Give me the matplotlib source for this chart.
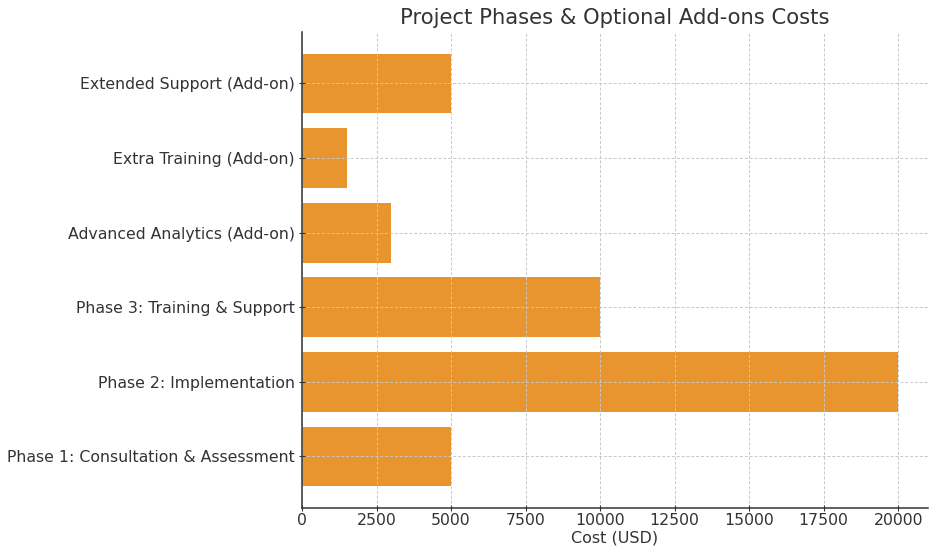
import matplotlib
matplotlib.use('Agg')
import matplotlib.pyplot as plt

# Data
categories = ['Phase 1: Consultation & Assessment', 'Phase 2: Implementation',
              'Phase 3: Training & Support', 'Advanced Analytics (Add-on)',
              'Extra Training (Add-on)', 'Extended Support (Add-on)']
costs = [5000, 20000, 10000, 3000, 1500, 5000]
xticks = [0, 2500, 5000, 7500, 10000, 12500, 15000, 17500, 20000]

text_color = '#333333'

fig = plt.figure(figsize=(9.37, 5.6), dpi=100)
ax = fig.add_axes([0.3223, 0.0929, 0.6681, 0.85])

ax.barh(categories, costs, color='#E8952F', height=0.8)
ax.set_xticks(xticks)
ax.set_xlim(0, 21000)

ax.grid(True, linestyle=(0, (3, 2)), color='#c8c8c8', linewidth=0.7)
ax.set_axisbelow(False)

ax.set_title('Project Phases & Optional Add-ons Costs', fontsize=15.2, color=text_color)
ax.set_xlabel('Cost (USD)', fontsize=11.5, color=text_color, labelpad=2)
ax.tick_params(axis='both', labelsize=11.3, colors=text_color, direction='inout', length=4)
ax.tick_params(axis='x', pad=1.5)
ax.tick_params(axis='y', pad=3)

for side in ['top', 'right']:
    ax.spines[side].set_visible(False)
for side in ['left', 'bottom']:
    ax.spines[side].set_color(text_color)
    ax.spines[side].set_linewidth(1.1)
    ax.spines[side].set_zorder(5)

fig.savefig('out.png', dpi=100)
